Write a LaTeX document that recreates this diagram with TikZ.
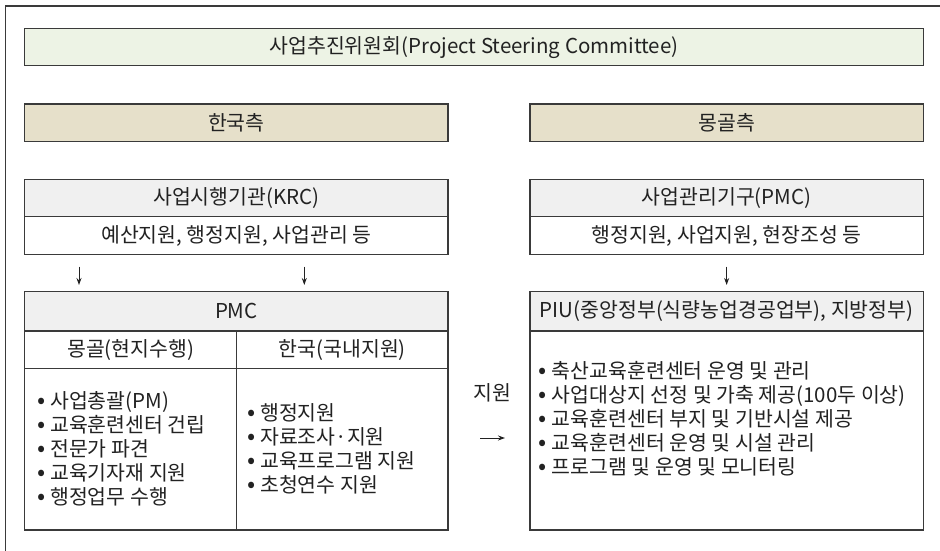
\documentclass[tikz,border=0pt]{standalone}
\usepackage{fontspec}
\setmainfont{Noto Sans CJK KR}
\usetikzlibrary{arrows.meta}
\definecolor{linec}{HTML}{3A3A3A}
\definecolor{txt}{HTML}{222222}
\definecolor{titlefill}{HTML}{EDF3E5}
\definecolor{sidefill}{HTML}{E6E0CA}
\definecolor{headfill}{HTML}{F0F0F0}
\newcommand\bodyfs{\fontsize{20.5}{24}\selectfont}
\newcommand\bul{{\fontsize{24}{24}\selectfont•}\hspace{5pt}}
\begin{document}
\begin{tikzpicture}[x=1pt,y=-1pt,
  box/.style={draw=linec, line width=1.1pt, inner sep=0pt, outer sep=0pt, font=\bodyfs, text=txt, anchor=center},
  listtext/.style={inner sep=0pt, outer sep=0pt, font=\bodyfs, text=txt, align=left, anchor=west},
  arr/.style={draw=txt, line width=1pt, -{Stealth[length=7pt,width=5pt]}}]
\useasboundingbox (0,0) rectangle (940,551);
% outer frame (only left and top edges visible)
\draw[linec, line width=1.1pt] (5.5,560) -- (5.5,6) -- (950,6);
% top
\node[box, fill=titlefill, minimum width=898.6pt, minimum height=37.3pt] (title) at (474,47.3) {사업추진위원회(Project Steering Committee)};
\node[box, fill=sidefill, minimum width=423.3pt, minimum height=37.7pt] (kor) at (236.35,122.85) {한국측};
\node[box, fill=sidefill, minimum width=393.3pt, minimum height=37.7pt] (mon) at (726.65,122.85) {몽골측};
% left column
\node[box, fill=headfill, minimum width=423.3pt, minimum height=37.4pt] (krch) at (236.35,198) {사업시행기관(KRC)};
\node[box, fill=white, minimum width=423.3pt, minimum height=37.6pt] (krcb) at (236.35,235.5) {예산지원, 행정지원, 사업관리 등};
\node[box, fill=headfill, minimum width=423.3pt, minimum height=39.3pt] (pmc) at (236.35,311.35) {PMC};
\node[box, fill=white, minimum width=212pt, minimum height=37.3pt] (mgsub) at (130.7,349.65) {몽골(현지수행)};
\node[box, fill=white, minimum width=211.3pt, minimum height=37.3pt] (krsub) at (342.35,349.65) {한국(국내지원)};
\node[box, fill=white, minimum width=212pt, minimum height=161.7pt] (mglist) at (130.7,449.15) {};
\node[box, fill=white, minimum width=211.3pt, minimum height=161.7pt] (krlist) at (342.35,449.15) {};
\node[listtext] (mglistt) at (37,449.2) {\fontsize{20.5}{28.3}\selectfont
\bul 사업총괄(PM)\\ \bul 교육훈련센터 건립\\ \bul 전문가 파견\\ \bul 교육기자재 지원\\ \bul 행정업무 수행};
\node[listtext] (krlistt) at (247,449.2) {\fontsize{20.5}{28.3}\selectfont
\bul 행정지원\\ \bul 자료조사·지원\\ \bul 교육프로그램 지원\\ \bul 초청연수 지원};
% right column
\node[box, fill=headfill, minimum width=393.3pt, minimum height=37.4pt] (pmrh) at (726.65,198) {사업관리기구(PMC)};
\node[box, fill=white, minimum width=393.3pt, minimum height=37.6pt] (pmrb) at (726.65,235.5) {행정지원, 사업지원, 현장조성 등};
\node[box, fill=headfill, minimum width=393.3pt, minimum height=39.3pt] (piuh) at (726.65,311.35) {PIU(중앙정부(식량농업경공업부), 지방정부)};
\node[box, fill=white, minimum width=393.3pt, minimum height=199pt] (piub) at (726.65,430.5) {};
\node[listtext] (piut) at (538.7,418.3) {\fontsize{20.5}{25.8}\selectfont
\bul 축산교육훈련센터 운영 및 관리\\ \bul 사업대상지 선정 및 가축 제공(100두 이상)\\ \bul 교육훈련센터 부지 및 기반시설 제공\\ \bul 교육훈련센터 운영 및 시설 관리\\ \bul 프로그램 및 운영 및 모니터링};
% connectors
\coordinate (xa) at (79,0);
\coordinate (xb) at (304.3,0);
\coordinate (ys) at (0,438);
\draw[arr, shorten <=12.4pt, shorten >=6.7pt] (krcb.south -| xa) -- (pmc.north -| xa);
\draw[arr, shorten <=12.4pt, shorten >=6.7pt] (krcb.south -| xb) -- (pmc.north -| xb);
\draw[arr, shorten <=12.4pt, shorten >=6.7pt] (pmrb.south) -- (piuh.north);
\draw[arr, shorten <=32pt, shorten >=25pt] (krlist.east |- ys) -- (piub.west |- ys);
\node[font=\bodyfs, text=txt, inner sep=0pt] (support) at (492.5,393) {지원};
\end{tikzpicture}
\end{document}
